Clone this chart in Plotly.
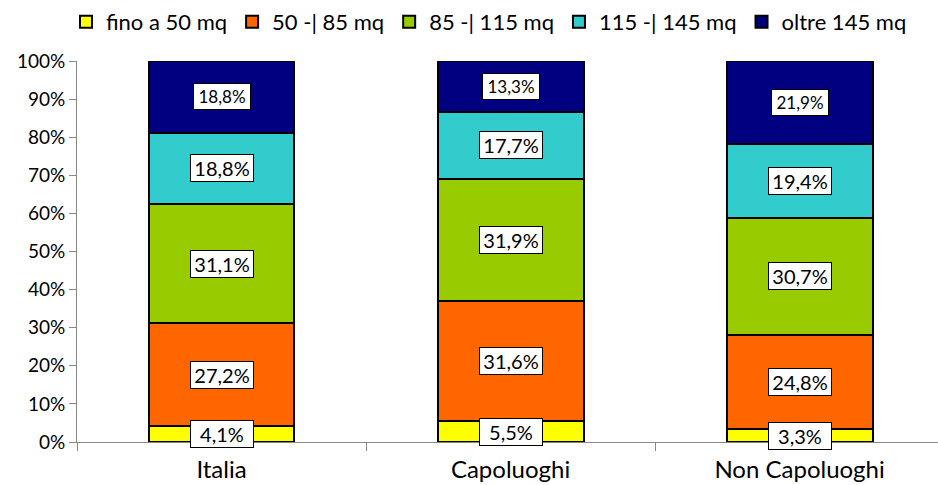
import plotly.graph_objects as go

categories = ["Italia", "Capoluoghi", "Non Capoluoghi"]
series_names = ["fino a 50 mq", "50 -| 85 mq", "85 -| 115 mq", "115 -| 145 mq", "oltre 145 mq"]
fino50 = [4.1, 5.5, 3.3]
da50a85 = [27.2, 31.6, 24.8]
da85a115 = [31.1, 31.9, 30.7]
da115a145 = [18.8, 17.7, 19.4]
oltre145 = [18.8, 13.3, 21.9]
series_values = [fino50, da50a85, da85a115, da115a145, oltre145]
colors = ["#FFFF00", "#FF6600", "#99CC00", "#33CCCC", "#000080"]
y_ticks = [0, 10, 20, 30, 40, 50, 60, 70, 80, 90, 100]
y_ticklabels = [f"{v}%" for v in y_ticks]

FONT = "Lato, 'Open Sans', sans-serif"

fig = go.Figure()
for name, vals, col in zip(series_names, series_values, colors):
    fig.add_trace(go.Bar(
        x=categories, y=vals, name=name,
        marker=dict(color=col, line=dict(color="black", width=2)),
        width=0.505,
    ))

annotations = []
for ci, cat in enumerate(categories):
    cum = 0
    for si, vals in enumerate(series_values):
        v = vals[ci]
        center = cum + v / 2
        cum += v
        small = si == len(series_values) - 1
        annotations.append(dict(
            x=cat, y=center, xref="x", yref="y",
            text=f"{v:.1f}%".replace(".", ","),
            showarrow=False,
            font=dict(family=FONT, size=17 if small else 20, color="black"),
            bgcolor="white", bordercolor="black", borderwidth=1,
            borderpad=2,
            width=52 if small else 58,
            height=21 if small else 22,
        ))

fig.update_layout(
    barmode="stack",
    width=938, height=485,
    margin=dict(l=77, r=0, t=61, b=43, autoexpand=False),
    paper_bgcolor="white", plot_bgcolor="white",
    font=dict(family=FONT, size=19, color="black"),
    bargap=0.495,
    showlegend=True,
    legend=dict(orientation="h", x=66 / 938, xanchor="left", y=1 - 1 / 485, yanchor="top",
                xref="container", yref="container",
                font=dict(family=FONT, size=22),
                itemwidth=30, traceorder="normal"),
    annotations=annotations,
    xaxis=dict(
        type="category", range=[-0.5, 2.479],
        showline=True, linecolor="#888888", linewidth=1,
        ticks="outside", ticklen=8, tickcolor="#888888", tickson="boundaries",
        tickfont=dict(family=FONT, size=24), ticklabelstandoff=6,
        showgrid=False,
    ),
    yaxis=dict(
        range=[0, 100], tickvals=y_ticks, ticktext=y_ticklabels,
        showline=True, linecolor="#888888", linewidth=1,
        ticks="outside", ticklen=7, tickcolor="#888888",
        tickfont=dict(family=FONT, size=19),
        showgrid=False, zeroline=False,
    ),
)

fig.write_html("out.html", config={"displayModeBar": False},
               post_script="document.body.style.margin='0';")
